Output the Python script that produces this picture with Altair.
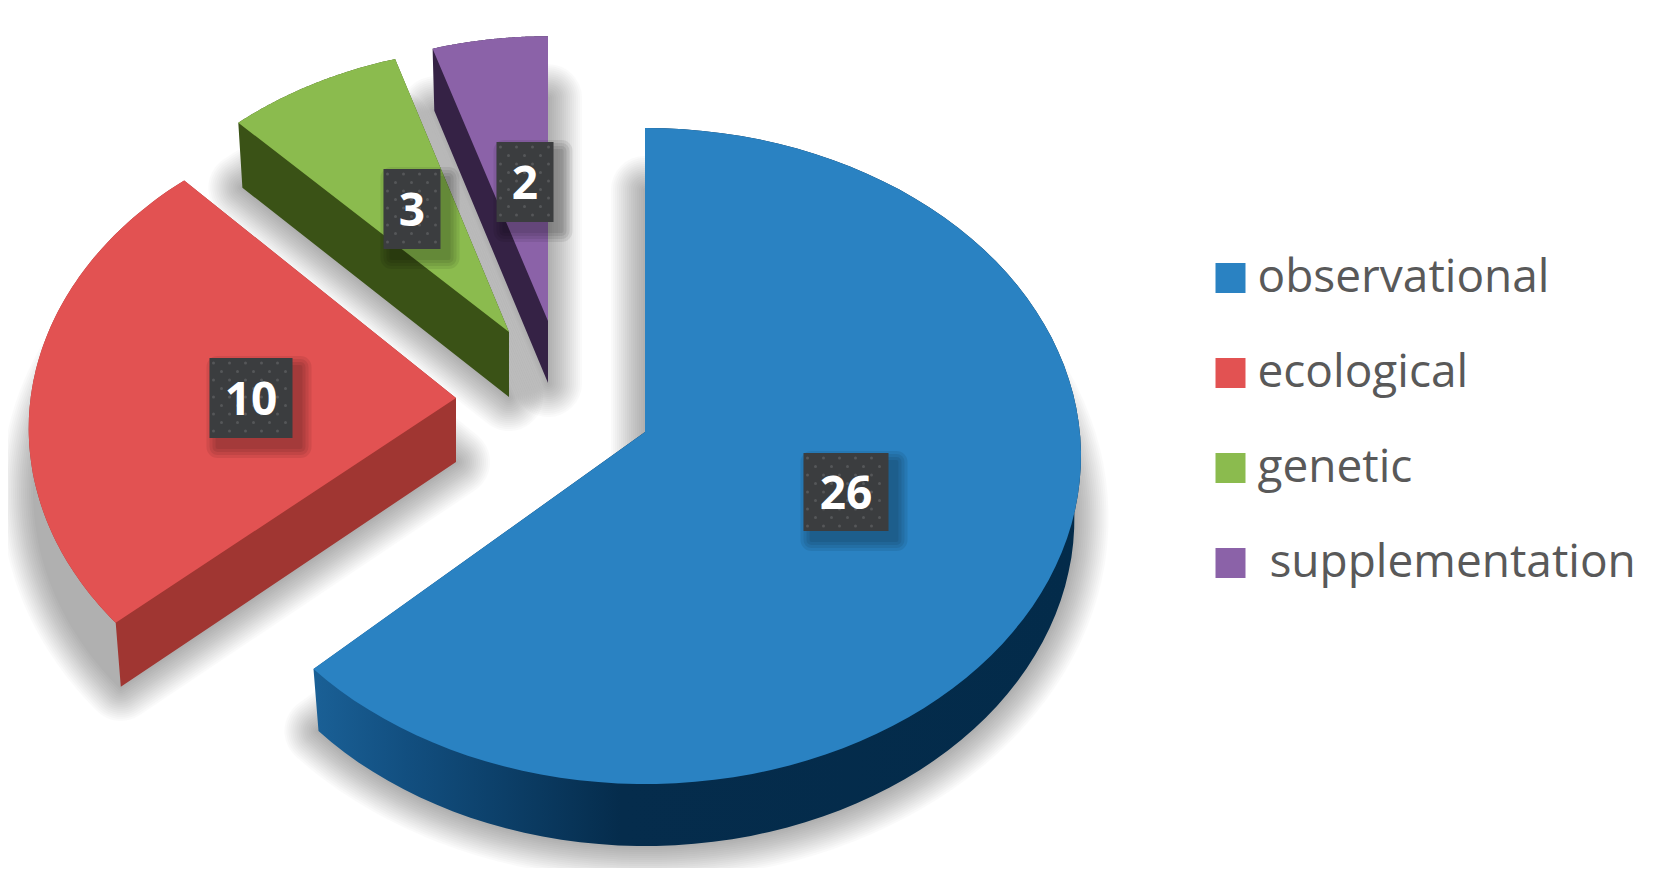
import math
import altair as alt

# ---- data
categories = ["observational", "ecological", "genetic", "supplementation"]
values = [26, 10, 3, 2]
top_colors = ["#2a82c2", "#e25252", "#8bbb4e", "#8b62a8"]
wall_colors = ["#052c4c", "#a03632", "#3a5216", "#352245"]

# ---- layout of the exploded, tilted pie (image pixels)
apex_x = [645, 456, 509, 548]
apex_y = [432, 398, 332, 321]
slice_scale = [1.0, 0.98, 0.95, 0.94]
start_adjust = [0.0, 4.5, 3.1, 1.2]   # perspective twist of each slice's edges, degrees
end_adjust = [1.2, 4.4, 1.6, 0.0]
cy_shift = [24, 31, 28, 25]
depth = [62, 64, 65, 62]
RX, RY = 436, 328
box_cx = [846, 251, 412, 525]
box_cy = [492, 398, 209, 182]
box_w = [85, 83, 57, 57]
box_h = [78, 80, 80, 80]

total = sum(values)


def arc(i, a0, a1, drop=0.0, shrink=1.0, n=90):
    s = slice_scale[i]
    pts = []
    for k in range(n + 1):
        a = math.radians(a0 + (a1 - a0) * k / n)
        pts.append([
            round(apex_x[i] + RX * s * shrink * math.sin(a), 1),
            round(apex_y[i] + (cy_shift[i] - RY * math.cos(a)) * s + drop, 1),
        ])
    return pts


def oriented(ring):
    area = sum(ring[k][0] * ring[k + 1][1] - ring[k + 1][0] * ring[k][1] for k in range(len(ring) - 1))
    return ring if area >= 0 else ring[::-1]


def feature(rings, name):
    return {"type": "Feature", "properties": {"name": name},
            "geometry": {"type": "MultiPolygon", "coordinates": [[oriented(r)] for r in rings]}}


tops, walls, shadows, boxes, box_shadows, labels, dots = [], [], [], [], [], [], []
start = 0.0
for i, name in enumerate(categories):
    end = start + values[i] / total * 360
    a0, a1 = start + start_adjust[i], end + end_adjust[i]
    top_arc = arc(i, a0, a1)
    bot_arc = arc(i, a0, a1, drop=depth[i], shrink=0.985)
    apex = [apex_x[i], apex_y[i]]
    apex_b = [apex_x[i], apex_y[i] + depth[i]]
    top = [apex] + top_arc + [apex]
    bottom = [apex_b] + bot_arc + [apex_b]
    side = top_arc + bot_arc[::-1] + [top_arc[0]]
    q0 = [apex, top_arc[0], bot_arc[0], apex_b, apex]
    q1 = [apex, top_arc[-1], bot_arc[-1], apex_b, apex]
    tops.append(feature([top], name))
    walls.append(feature([bottom, side, q0, q1], name))
    shadows.append(feature([bottom], name))
    x, y, w, h = box_cx[i], box_cy[i], box_w[i] / 2, box_h[i] / 2
    boxes.append(feature([[[x - w, y - h], [x + w, y - h], [x + w, y + h], [x - w, y + h], [x - w, y - h]]], name))
    box_shadows.append(feature([[[x - w + 8, y - h + 9], [x + w + 8, y - h + 9], [x + w + 8, y + h + 9],
                                 [x - w + 8, y + h + 9], [x - w + 8, y - h + 9]]], name))
    labels.append({"lon": x, "lat": y + 3, "value": values[i]})
    row = 0
    yy = y - h + 5
    while yy < y + h - 2:
        xx = x - w + (4 if row % 2 == 0 else 12)
        while xx < x + w - 2:
            dots.append({"lon": xx, "lat": yy})
            xx += 16
        yy += 8.5
        row += 1
    start = end

proj = dict(type="identity", scale=1, translate=[-8, -8])
layers = []

# soft cast shadow: stacked, widening, almost transparent outlines
for d in range(2, 36, 2):
    layers.append(alt.Chart(alt.Data(values=shadows)).mark_geoshape(
        fill="#000", stroke="#000", strokeWidth=2 * d, strokeJoin="round", opacity=0.015).project(**proj))

# walls
blue_wall = {"gradient": "linear", "x1": 0, "x2": 1, "y1": 0, "y2": 0, "stops": [
    {"offset": 0, "color": "#1a6096"}, {"offset": 0.12, "color": "#124f80"},
    {"offset": 0.4, "color": "#052c4c"}, {"offset": 1, "color": "#032b4a"}]}
layers.append(alt.Chart(alt.Data(values=walls[:1])).mark_geoshape(fill=blue_wall, strokeWidth=0).project(**proj))
for i in range(1, 4):
    layers.append(alt.Chart(alt.Data(values=walls[i:i + 1])).mark_geoshape(
        fill=wall_colors[i], strokeWidth=0).project(**proj))

# top faces carry the legend
layers.append(alt.Chart(alt.Data(values=tops)).mark_geoshape(strokeWidth=0).encode(
    color=alt.Color("properties.name:N",
                    scale=alt.Scale(domain=categories, range=top_colors),
                    legend=alt.Legend(
                        title=None, orient="none", legendX=1199.5, legendY=247,
                        symbolType="square", symbolSize=900, symbolStrokeWidth=0,
                        symbolOpacity=1, labelFontSize=46, labelFont="Open Sans", labelColor="#595959",
                        labelLimit=600, rowPadding=49, labelOffset=4,
                        labelExpr="datum.label == 'supplementation' ? '\u200b\u00a0' + datum.label : datum.label",
                    ))).project(**proj))

# value tags
for d in [2, 5, 8, 11]:
    layers.append(alt.Chart(alt.Data(values=box_shadows)).mark_geoshape(
        fill="#000", stroke="#000", strokeWidth=2 * d, strokeJoin="round", opacity=0.07).project(**proj))
layers.append(alt.Chart(alt.Data(values=boxes)).mark_geoshape(fill="#3b3d3f", strokeWidth=0).project(**proj))
layers.append(alt.Chart(alt.Data(values=dots)).mark_circle(size=9, color="#6b6e70", opacity=0.55).encode(
    longitude="lon:Q", latitude="lat:Q").project(**proj))
layers.append(alt.Chart(alt.Data(values=labels)).mark_text(
    font="Open Sans", fontWeight="bold", fontSize=46, color="white", align="center", baseline="middle").encode(
    longitude="lon:Q", latitude="lat:Q", text="value:N").project(**proj))

chart = alt.layer(*layers).properties(
    width=1637, height=860, padding=0, autosize=alt.AutoSizeParams(type="none"), background="white"
).configure_view(stroke=None)

chart.save("out.html", embed_options={"renderer": "svg", "actions": False})
